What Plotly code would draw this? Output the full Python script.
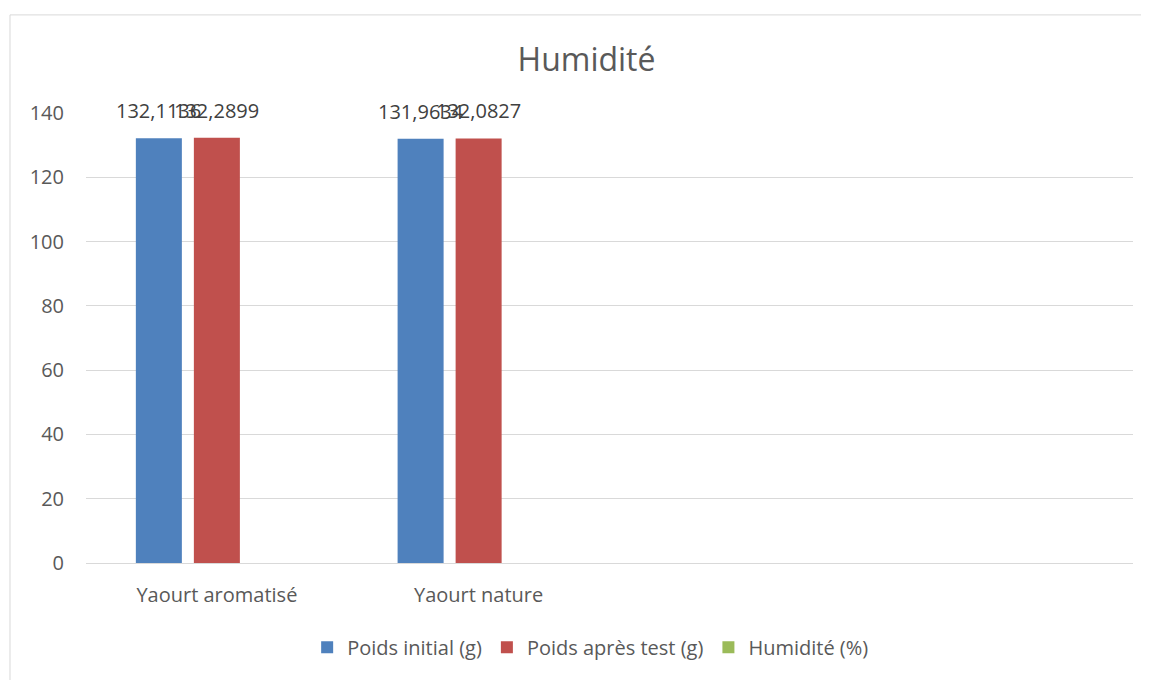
"""Humidité bar chart."""

import plotly.graph_objects as go

CATEGORIES = ["Yaourt aromatisé", "Yaourt nature"]
POIDS_INITIAL = [132.1136, 131.9634]
POIDS_APRES = [132.2899, 132.0827]
HUMIDITE = [None, None]

SERIES = [
    ("Poids initial (g)", POIDS_INITIAL, "#4F81BD"),
    ("Poids après test (g)", POIDS_APRES, "#C0504D"),
    ("Humidité (%)", HUMIDITE, "#9BBB59"),
]

FONT = "Open Sans"
GREY = "#595959"
GRID = "#D9D9D9"

# the page body adds 8px, margins below are shifted to compensate
W, H = 1149, 680
MARGIN = dict(l=78, r=24, t=105, b=125)
N_SLOTS = 4  # the sheet had two empty categories on the right
BARGAP = 0.335


def fmt(v):
    # French decimal comma, like the original labels
    return "" if v is None else f"{v}".replace(".", ",")


fig = go.Figure()
for name, values, color in SERIES:
    fig.add_trace(
        go.Bar(
            x=CATEGORIES,
            y=values,
            name=name,
            marker=dict(color=color, line=dict(width=0)),
        )
    )

# value labels, placed over each bar of the group
cat_px = (W - MARGIN["l"] - MARGIN["r"]) / N_SLOTS
slot_px = cat_px * (1 - BARGAP) / len(SERIES)
for i, (name, values, color) in enumerate(SERIES):
    for cat, v in zip(CATEGORIES, values):
        if v is None:
            continue
        fig.add_annotation(
            x=cat,
            y=v,
            text=fmt(v),
            showarrow=False,
            xanchor="center",
            yanchor="bottom",
            xshift=(i - (len(SERIES) - 1) / 2) * slot_px,
            yshift=12,
            font=dict(family=FONT, size=20, color="#404040"),
        )

fig.update_layout(
    width=W,
    height=H,
    margin=MARGIN,
    paper_bgcolor="white",
    plot_bgcolor="white",
    font=dict(family=FONT, size=20, color=GREY),
    barmode="group",
    bargap=BARGAP,
    bargroupgap=0.207,
    title=dict(
        text="Humidité",
        x=0.5035,
        xanchor="center",
        y=0.9235,
        yanchor="middle",
        font=dict(family=FONT, size=32, color=GREY),
    ),
    legend=dict(
        orientation="h",
        x=0.482,
        xanchor="center",
        y=-0.187,
        yanchor="middle",
        font=dict(family=FONT, size=20, color=GREY),
        itemwidth=30,
    ),
    showlegend=True,
)

fig.update_xaxes(
    type="category",
    range=[-0.5, N_SLOTS - 0.5],
    showgrid=False,
    showline=True,
    linecolor=GRID,
    linewidth=1,
    ticks="",
    ticklabelstandoff=14,
    tickfont=dict(family=FONT, size=20, color=GREY),
)
fig.update_yaxes(
    range=[0, 140],
    dtick=20,
    showgrid=True,
    gridcolor=GRID,
    gridwidth=1,
    zeroline=False,
    showline=False,
    ticks="",
    ticklabelstandoff=21,
    tickfont=dict(family=FONT, size=20, color=GREY),
)

# chart-area border, as in the spreadsheet export
fig.add_shape(
    type="rect",
    xref="paper",
    yref="paper",
    x0=-0.0726,
    x1=1.03,
    y0=-0.3,
    y1=1.218,
    line=dict(color=GRID, width=1),
    layer="below",
)

fig.write_html("out.html")
